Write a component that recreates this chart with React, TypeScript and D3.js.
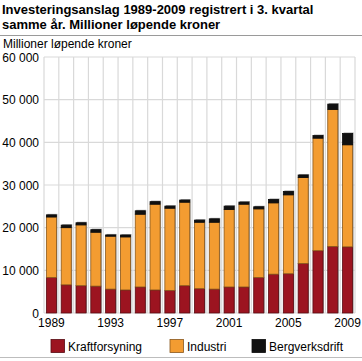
import React from "react";
import * as d3 from "d3";

const years = ["1989","1990","1991","1992","1993","1994","1995","1996","1997","1998","1999","2000","2001","2002","2003","2004","2005","2006","2007","2008","2009"];
const kraftforsyning = [8300,6600,6400,6300,5600,5400,6100,5400,5300,6400,5700,5600,6100,6100,8300,9100,9200,11600,14600,15600,15500];
const industri = [14200,13400,14250,12630,12400,12430,17050,20100,19260,19570,15570,15670,18150,19400,16100,16710,18490,20150,26380,32110,23920];
const bergverksdrift = [500,600,500,600,300,450,800,600,500,500,500,800,800,500,500,800,800,600,600,1250,2650];
const seriesNames = ["Kraftforsyning","Industri","Bergverksdrift"];
const seriesColors = ["#9c1420","#f39c31","#111111"];
const yTicks = [0,10000,20000,30000,40000,50000,60000];
const xTickLabels = ["1989","1993","1997","2001","2005","2009"];

const W = 362, H = 361;
const left = 44, right = 355, top = 57, bottom = 313;

export default function App() {
  const x = d3.scaleBand<string>().domain(years).range([left, right]).paddingInner(0.32).paddingOuter(0.16);
  const xb = d3.scaleBand<string>().domain(years).range([left, right]);
  const y = d3.scaleLinear().domain([0, 60000]).range([bottom, top]);
  const table = years.map((yr, i) => ({ year: yr, Kraftforsyning: kraftforsyning[i], Industri: industri[i], Bergverksdrift: bergverksdrift[i] }));
  const stacked = d3.stack<any>().keys(seriesNames)(table);
  const fmt = (v: number) => d3.format(",")(v).replace(/,/g, " ");
  const font = "'Liberation Sans', Arial, sans-serif";
  const gridColor = "#d9d9d9";
  const legendX = [51, 170, 252];

  return (
    <svg width={W} height={H} style={{ position: "absolute", left: 0, top: 0, fontFamily: font }}>
      <rect width={W} height={H} fill="#fff" />
      <text x={2} y={14} fontSize={13} fontWeight="bold" fill="#000">Investeringsanslag 1989-2009 registrert i 3. kvartal</text>
      <text x={2} y={29} fontSize={13} fontWeight="bold" fill="#000">samme år. Millioner løpende kroner</text>
      <line x1={0} x2={W} y1={35.5} y2={35.5} stroke="#9a9a9a" strokeWidth={1} />
      <text x={3} y={48} fontSize={12} fill="#000">Millioner løpende kroner</text>
      {yTicks.map(t => (
        <g key={t}>
          <line x1={left} x2={right} y1={y(t)} y2={y(t)} stroke={gridColor} strokeWidth={1.2} />
          <text x={39} y={y(t) + 4.5} fontSize={12} textAnchor="end" fill="#000">{fmt(t)}</text>
        </g>
      ))}
      {years.concat(["end"]).map((yr, i) => {
        const xv = i < years.length ? (xb(yr) as number) : right;
        return <line key={"v" + i} x1={xv} x2={xv} y1={top} y2={bottom} stroke={gridColor} strokeWidth={1.2} />;
      })}
      {years.map((yr, i) => {
        const tot = kraftforsyning[i] + industri[i] + bergverksdrift[i];
        return <rect key={"s" + yr} x={(x(yr) as number) + 1} y={y(tot) - 1} width={x.bandwidth()} height={y(0) - y(tot) + 1} fill="#a0a0a0" />;
      })}
      {stacked.map((s, si) => (
        <g key={s.key}>
          {s.map((d, i) => (
            <rect key={i} x={x(years[i])} y={y(d[1])} width={x.bandwidth()} height={Math.max(0, y(d[0]) - y(d[1]))}
              fill={seriesColors[si]} stroke={d3.color(seriesColors[si])!.darker(1.6).toString()} strokeWidth={0.8} />
          ))}
        </g>
      ))}
      {xTickLabels.map(l => (
        <text key={l} x={(x(l) as number) + x.bandwidth() / 2} y={327} fontSize={12} textAnchor="middle" fill="#000">{l}</text>
      ))}
      {seriesNames.map((n, i) => (
        <g key={n}>
          <rect x={legendX[i]} y={339.5} width={13.5} height={13} fill={seriesColors[i]} stroke={d3.color(seriesColors[i])!.darker(1.6).toString()} strokeWidth={0.8} />
          <text x={legendX[i] + 17} y={351} fontSize={12} fill="#000">{n}</text>
        </g>
      ))}
      <line x1={0} x2={W} y1={357.5} y2={357.5} stroke="#bdbdbd" strokeWidth={1} />
    </svg>
  );
}
